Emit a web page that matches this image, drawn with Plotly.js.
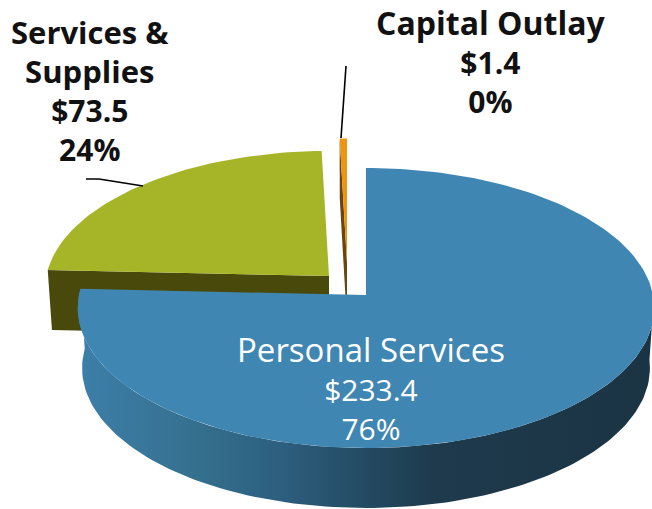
<!DOCTYPE html>
<html><head><meta charset="utf-8">
<script src="https://cdn.plot.ly/plotly-3.0.1.min.js"></script>
<style>html,body{margin:0;padding:0;background:#fff;overflow:hidden}#c{width:652px;height:509px}</style>
</head><body><div id="c"></div>
<script>
// Data
const categories = ["Personal Services", "Services &<br>Supplies", "Capital Outlay"];
const amounts = [233.4, 73.5, 1.4];
const shareLabels = ["76%", "24%", "0%"];

// Drawing settings (pixel-like axis units)
const apexes = [[366, 295], [329, 276], [347, 263]];
const scales = [1, 0.985, 0.98];
const RX = 287, RY = 138.8, PERSP = -0.093, DEPTH = 60, BOTTOM_X = 0.985;
const topColors = ["#4086b3", "#a6b528", "#ee9410"];
const labelPos = [[370.5, 388, "#ffffff", 400, 33], [90, 90, "#111111", 700, 31], [491, 61, "#111111", 700, 32]];

const total = amounts.reduce((a, b) => a + b, 0);
function pt(i, deg, drop) {
  const t = deg * Math.PI / 180, u = Math.sin(t), v = -Math.cos(t), w = 1 + PERSP * v, s = scales[i];
  const xs = drop ? BOTTOM_X : 1;
  return [apexes[i][0] + xs * s * RX * u / w, apexes[i][1] + s * RY * v / w + (drop || 0)];
}
function arc(i, a0, a1, drop) {
  const out = [], n = Math.max(4, Math.ceil(Math.abs(a1 - a0) / 1.5));
  for (let k = 0; k <= n; k++) out.push(pt(i, a0 + (a1 - a0) * k / n, drop));
  return out;
}
function poly(points, color, extra) {
  return Object.assign({
    type: "scatter", mode: "lines", x: points.map(p => p[0]), y: points.map(p => p[1]),
    fill: "toself", fillcolor: color, line: {width: 0, color: color}, hoverinfo: "skip", showlegend: false
  }, extra || {});
}
function leader(pts) {
  return {type: "scatter", mode: "lines", x: pts.map(p => p[0]), y: pts.map(p => p[1]),
    line: {color: "#000000", width: 1.6}, hoverinfo: "skip", showlegend: false};
}

// Slice angles from values: clockwise from 12 o'clock
const a = [0]; amounts.forEach((v, i) => a.push(a[i] + v / total * 360));

const traces = [];
// Capital Outlay (farthest)
const oEdge = pt(2, a[2]);
traces.push(poly([oEdge, apexes[2], [apexes[2][0], apexes[2][1] + DEPTH], pt(2, a[2], DEPTH)], "#6b4510"));
traces.push(poly([apexes[2]].concat(arc(2, a[2], a[3])), topColors[2]));
traces.push(leader([[346, 66], [341, 138]]));
// Services & Supplies
const gEdge = pt(1, a[1]);
traces.push(poly([gEdge, apexes[1], [apexes[1][0], apexes[1][1] + DEPTH], pt(1, a[1], DEPTH)], "#49490c"));
traces.push(poly([apexes[1]].concat(arc(1, a[1], a[2])), topColors[1]));
traces.push(leader([[86, 179], [99, 179], [143, 186]]));
// Personal Services
const wall = arc(0, 92, a[1]).concat(arc(0, a[1], 92, DEPTH));
traces.push(poly(wall, "#2a5570", {fillgradient: {type: "horizontal",
  colorscale: [[0, "#3d7fa9"], [0.2, "#35708f"], [0.35, "#2d5f7f"], [0.5, "#234a62"], [0.62, "#1e3a4c"], [1, "#1b3444"]]}}));
traces.push(poly([apexes[0]].concat(arc(0, a[0], a[1])), topColors[0]));

const annotations = categories.map((c, i) => ({
  x: labelPos[i][0], y: labelPos[i][1], xref: "x", yref: "y", showarrow: false, align: "center",
  xanchor: "center", yanchor: "middle",
  text: c.split("<br>").map(s => '<span style="font-size:' + labelPos[i][4] + 'px">' + s + "</span>").join("<br>")
    + "<br>$" + amounts[i].toFixed(1) + "<br>" + shareLabels[i],
  font: {family: "'Open Sans', sans-serif", size: 30, color: labelPos[i][2], weight: labelPos[i][3]}
}));

Plotly.newPlot("c", traces, {
  width: 652, height: 509, margin: {l: 0, r: 0, t: 0, b: 0},
  paper_bgcolor: "#ffffff", plot_bgcolor: "#ffffff", showlegend: false,
  xaxis: {range: [0, 652], visible: false, fixedrange: true},
  yaxis: {range: [509, 0], visible: false, fixedrange: true},
  annotations: annotations
}, {displayModeBar: false, staticPlot: true});
</script></body></html>
